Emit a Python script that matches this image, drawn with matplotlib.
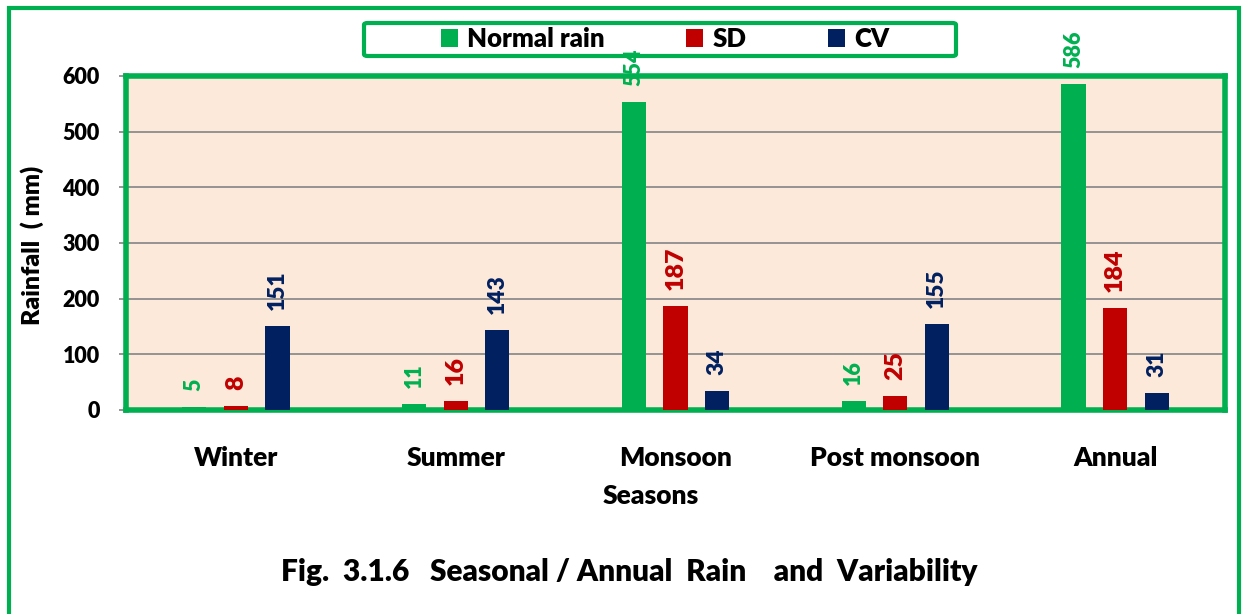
import numpy as np
import matplotlib
matplotlib.use("Agg")
import matplotlib.pyplot as plt
from matplotlib.patches import Rectangle, FancyBboxPatch
from matplotlib import font_manager

# Data
seasons = ["Winter", "Summer", "Monsoon", "Post monsoon", "Annual"]
normal_rain = [5, 11, 554, 16, 586]
sd = [8, 16, 187, 25, 184]
cv = [151, 143, 34, 155, 31]

series_names = ["Normal rain", "SD", "CV"]
series_colors = ["#00B050", "#C00000", "#002060"]
label_sizes = [15.5, 18, 16.5]

plt.rcParams['font.family'] = ['Lato', 'DejaVu Sans']
plt.rcParams['font.weight'] = 'heavy'
WT = 'heavy'
print([ (f.name, f.weight) for f in font_manager.fontManager.ttflist if 'Lato' in f.name])

W, H = 1242, 614
fig = plt.figure(figsize=(12.42, 6.14), dpi=100)
fig.patch.set_facecolor("white")

# plot area in pixel terms -> figure fractions
left_px, right_px, top_px, bot_px = 126, 1225, 76, 410
ax = fig.add_axes([left_px / W, 1 - bot_px / H, (right_px - left_px) / W, (bot_px - top_px) / H])
ax.set_facecolor("#FDE9D9")

x = np.arange(len(seasons))
width = 0.11
offset = 0.189

bars = []
for i, (vals, col, fs) in enumerate(zip([normal_rain, sd, cv], series_colors, label_sizes)):
    pos = x + (i - 1) * offset
    b = ax.bar(pos, vals, width, color=col, zorder=3, label=series_names[i])
    bars.append(b)
    for xp, v in zip(pos, vals):
        ax.annotate(str(v), (xp, v), xytext=(0, 11.5), textcoords="offset points",
                    rotation=90, ha="center", va="bottom", color=col,
                    fontsize=fs, fontweight=WT, annotation_clip=False,
                    clip_on=False, zorder=6)

ax.set_xlim(-0.5, len(seasons) - 0.5)
ax.set_ylim(0, 600)
ax.set_yticks(np.arange(0, 601, 100))
ax.yaxis.grid(True, color="#8C8C8C", lw=1.3, zorder=1)
ax.set_axisbelow(True)

ax.set_xticks(x)
ax.set_xticklabels(seasons, fontsize=19, fontweight=WT)
ax.tick_params(axis="x", length=0, pad=26)
ax.tick_params(axis="y", labelsize=15.5, length=5, color="#8C8C8C", width=1.3, pad=14)
for t in ax.get_yticklabels():
    t.set_fontweight(WT)

for s in ax.spines.values():
    s.set_color("#00B050")
    s.set_linewidth(4)

# axis titles
fig.text(32 / W, 1 - 245 / H, "Rainfall  ( mm)", rotation=90, ha="center", va="center",
         fontsize=18, fontweight=WT)
fig.text(651 / W, 1 - 496 / H, "Seasons", ha="center", va="center",
         fontsize=19, fontweight=WT)
fig.text(629 / W, 1 - 572 / H, "Fig.  3.1.6   Seasonal / Annual  Rain    and  Variability",
         ha="center", va="center", fontsize=21.5, fontweight=WT)

# legend with separate frame
leg = fig.legend(handles=bars, labels=series_names, loc="center",
                 bbox_to_anchor=(665 / W, 1 - 39 / H), ncol=3, frameon=False,
                 prop={"family": ["Lato", "DejaVu Sans"], "weight": WT, "size": 18.5},
                 handlelength=0.65, handleheight=0.65, handletextpad=0.35,
                 columnspacing=3.2, borderpad=0)
fig.patches.append(FancyBboxPatch((364 / W, 1 - 56 / H), (956 - 364) / W, 33 / H,
                                  boxstyle="round,pad=0,rounding_size=0.003",
                                  transform=fig.transFigure, fill=False,
                                  edgecolor="#00B050", lw=3, figure=fig))

# outer chart border (bottom runs off the picture)
fig.patches.append(Rectangle((9 / W, -0.1), (1239 - 9) / W, 1.1 - 8 / H,
                             transform=fig.transFigure, fill=False,
                             edgecolor="#00B050", lw=3, figure=fig))

fig.savefig("out.png", dpi=100)
